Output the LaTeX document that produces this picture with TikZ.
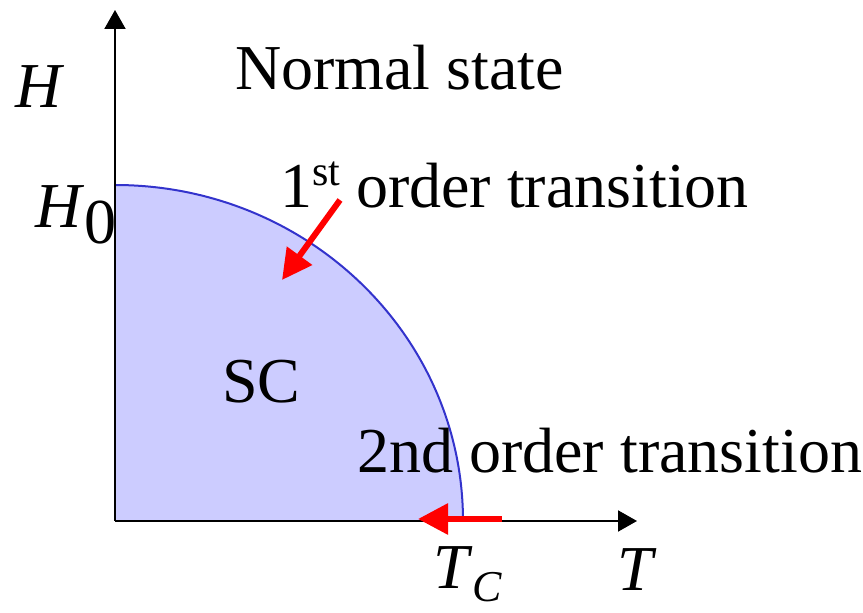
\documentclass[tikz,border=0pt]{standalone}
\usepackage{fontspec}
\setmainfont{Liberation Serif}
\usetikzlibrary{arrows.meta}
\definecolor{scfill}{RGB}{204,204,255}
\definecolor{scline}{RGB}{51,51,204}
\begin{document}
\begin{tikzpicture}[x=1pt,y=1pt,
  lbl/.style={anchor=base west,inner sep=0pt,font=\fontsize{64}{70}\selectfont},
  axis/.style={line width=2pt,-{Triangle[length=19pt,width=21pt]}},
  redarrow/.style={red,line width=6pt,-{Triangle[length=30pt,width=30pt]}}]
\useasboundingbox (0,0) rectangle (863,613);
\coordinate (O) at (115,92);
\coordinate (Htip) at (115,603);
\coordinate (Ttip) at (637,92);
\coordinate (H0) at (115,428);
\coordinate (TC) at (463,92);
% SC region
\fill[scfill] (O) -- (H0) arc[start angle=90,end angle=0,x radius=348,y radius=336] -- cycle;
\draw[scline,line width=2pt] (H0) arc[start angle=90,end angle=0,x radius=348,y radius=336];
% axes
\draw[axis] (O) -- (Htip);
\draw[axis] (O) -- (Ttip);
% labels
\node[lbl] (ns) at (235,523) {Normal state};
\node[lbl] (hl) at (15,505) {\textit{H}};
\node[lbl] (h0l) at (35,385) {\textit{H}\raisebox{-16pt}{0}};
\node[lbl] (first) at (280,405) {1\raisebox{22pt}{\fontsize{42}{46}\selectfont st} order transition};
\node[lbl] (sc) at (222,210) {SC};
\node[lbl] (second) at (357,140) {2nd order transition};
\node[lbl] (tcl) at (433,24) {\textit{T}\raisebox{-13pt}{\fontsize{44}{48}\selectfont\textit{C}}};
\node[lbl] (tl) at (617,22) {\textit{T}};
% red arrows
\coordinate (a1s) at (340,413);
\coordinate (a1e) at (282,333);
\coordinate (a2s) at (502,94);
\coordinate (a2e) at (418,94);
\draw[redarrow] (a1s) -- (a1e);
\draw[redarrow] (a2s) -- (a2e);
\end{tikzpicture}
\end{document}
